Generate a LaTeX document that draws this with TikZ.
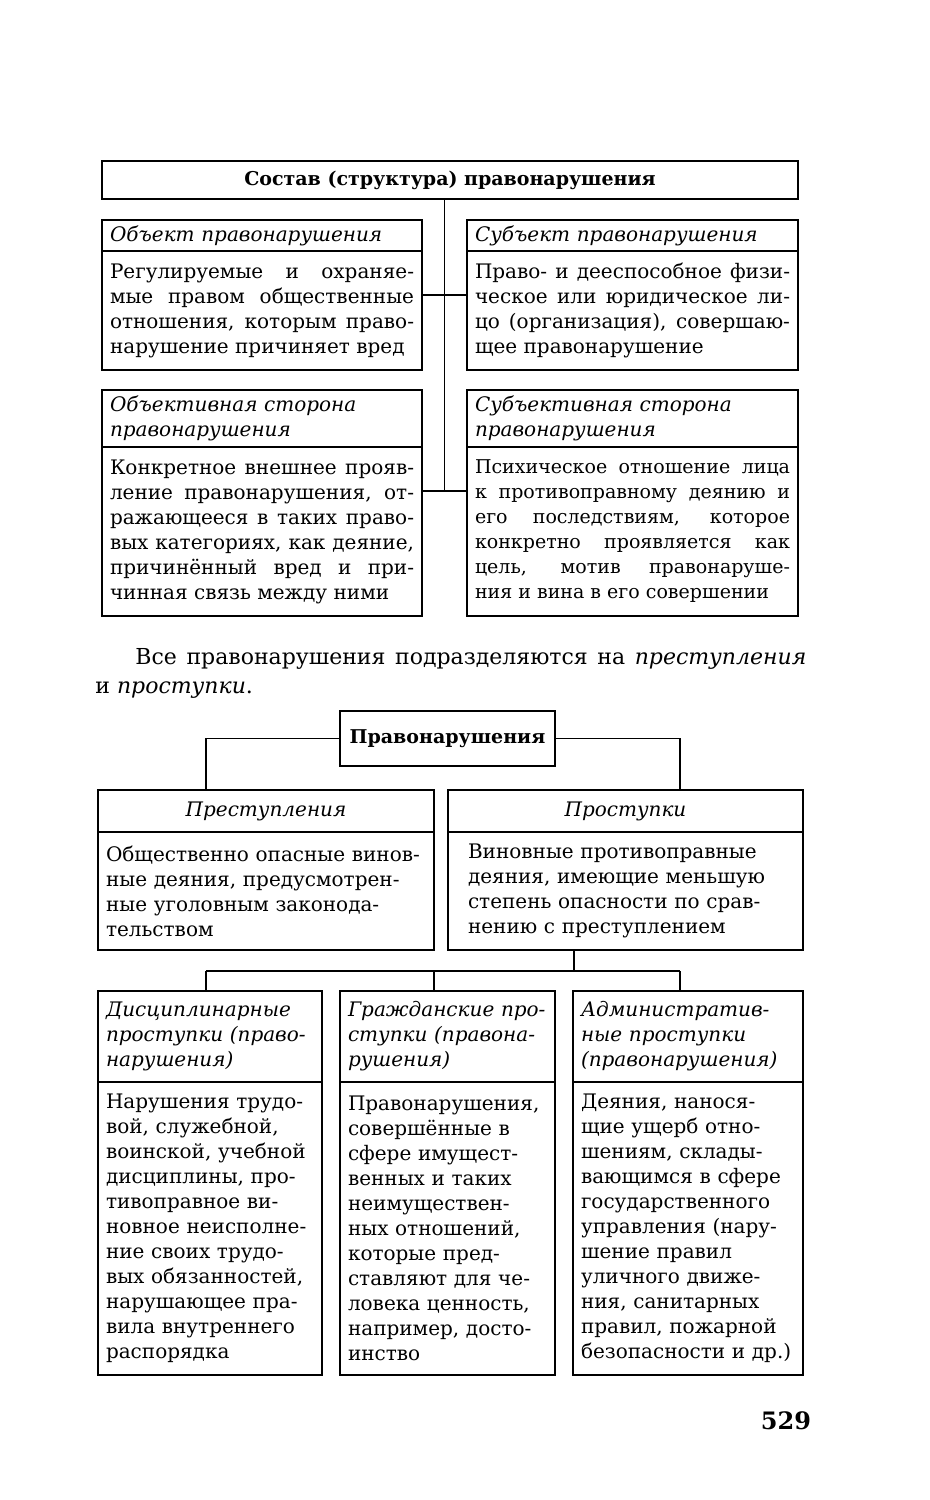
\documentclass[tikz,border=0pt]{standalone}
\usepackage{fontspec}
\setmainfont{DejaVu Serif}
\usetikzlibrary{positioning,calc}
\hyphenpenalty=10000
\exhyphenpenalty=10000

\begin{document}
\begin{tikzpicture}[x=0.5pt,y=-0.5pt,
    font=\fontsize{10}{12.5}\selectfont,
    frame/.style={draw,line width=0.9pt,inner ysep=1pt,outer sep=0pt},
    titlebox/.style={frame,font=\fontsize{9.5}{12.5}\selectfont\bfseries,align=center},
    boxhead/.style={frame,anchor=north west,inner xsep=4pt,align=left,font=\fontsize{10}{12.5}\selectfont\itshape},
    boxbody/.style={frame,anchor=north west,inner xsep=4pt,align=justify},
    ragbody/.style={frame,anchor=north west,inner xsep=4pt,align=left},
    link/.style={line width=0.9pt}]

    \useasboundingbox (0,0) rectangle (930,1500);

    % Structure of the offence
    \node[titlebox,minimum width=348pt,minimum height=19pt] at (450,180) (title) {Состав (структура) правонарушения};

    \node[boxhead,text width=152pt,minimum height=15.5pt] at (102,220) (objhd) {Объект правонарушения};
    \node[boxbody,text width=152pt,minimum height=59.5pt] at (objhd.south west) (objbd) {Регулируемые и охраняе-\linebreak мые правом общественные\linebreak отношения, которым право-\linebreak нарушение причиняет вред};

    \node[boxhead,text width=157.5pt,minimum height=15.5pt] at (467,220) (subjhd) {Субъект правонарушения};
    \node[boxbody,text width=157.5pt,minimum height=59.5pt] at (subjhd.south west) (subjbd) {Право- и дееспособное физи-\linebreak ческое или юридическое ли-\linebreak цо (организация), совершаю-\linebreak щее правонарушение};

    \node[boxhead,text width=152pt,minimum height=28.5pt] at (102,390) (objsdhd) {Объективная сторона\\правонарушения};
    \node[boxbody,text width=152pt,minimum height=84.5pt] at (objsdhd.south west) (objsdbd) {Конкретное внешнее прояв-\linebreak ление правонарушения, от-\linebreak ражающееся в таких право-\linebreak вых категориях, как деяние,\linebreak причинённый вред и при-\linebreak чинная связь между ними};

    \node[boxhead,text width=157.5pt,minimum height=28.5pt] at (467,390) (subjsdhd) {Субъективная сторона\\правонарушения};
    \node[boxbody,text width=157.5pt,minimum height=84.5pt,font=\fontsize{9.5}{12.5}\selectfont] at (subjsdhd.south west) (subjsdbd) {Психическое отношение лица\linebreak к противоправному деянию и\linebreak его последствиям, которое\linebreak конкретно проявляется как\linebreak цель, мотив правонаруше-\linebreak ния и вина в его совершении};

    % Spine and branches
    \coordinate (spine) at ($([yshift=-22pt]objsdbd.north east)!0.5!([yshift=-22pt]subjsdbd.north west)$);
    \draw[link] (spine |- title.south) -- (spine);
    \draw[link] ([yshift=-22pt]objbd.north east) -- ([yshift=-22pt]subjbd.north west);
    \draw[link] ([yshift=-22pt]objsdbd.north east) -- ([yshift=-22pt]subjsdbd.north west);

    % Text between the schemes
    \node[anchor=north west,inner sep=0pt,text width=355.5pt,align=justify,font=\fontsize{11}{14.5}\selectfont] at (95,648) (para) {\hspace*{20pt}Все правонарушения подразделяются на \textit{преступления}\linebreak и \textit{проступки}.};

    % Kinds of offences
    \node[titlebox,minimum width=107.5pt,minimum height=27.5pt] at (447.5,738.5) (offence) {Правонарушения};

    \node[boxhead,text width=160pt,minimum height=21pt,align=center] at (98,790) (crimehd) {Преступления};
    \node[ragbody,text width=160pt,minimum height=59pt] at (crimehd.south west) (crimebd) {Общественно опасные винов-\\ные деяния, предусмотрен-\\ные уголовным законода-\\тельством};

    \node[boxhead,text width=169.5pt,minimum height=21pt,align=center] at (448,790) (misdhd) {Проступки};
    \node[ragbody,inner xsep=10pt,text width=157.5pt,minimum height=59pt] at (misdhd.south west) (misdbd) {Виновные противоправные\\деяния, имеющие меньшую\\степень опасности по срав-\\нению с преступлением};

    \node[boxhead,text width=104pt,minimum height=45.5pt] at (98,991) (discihd) {Дисциплинарные\\проступки (право-\\нарушения)};
    \node[ragbody,text width=104pt,minimum height=146.5pt] at (discihd.south west) (discibd) {Нарушения трудо-\\вой, служебной,\\воинской, учебной\\дисциплины, про-\\тивоправное ви-\\новное неисполне-\\ние своих трудо-\\вых обязанностей,\\нарушающее пра-\\вила внутреннего\\распорядка};

    \node[boxhead,text width=99.5pt,minimum height=45.5pt] at (340,991) (civilhd) {Гражданские про-\\ступки (правона-\\рушения)};
    \node[ragbody,text width=99.5pt,minimum height=146.5pt] at (civilhd.south west) (civilbd) {Правонарушения,\\совершённые в\\сфере имущест-\\венных и таких\\неимуществен-\\ных отношений,\\которые пред-\\ставляют для че-\\ловека ценность,\\например, досто-\\инство};

    \node[boxhead,text width=107pt,minimum height=45.5pt] at (573,991) (adminhd) {Административ-\\ные проступки\\(правонарушения)};
    \node[ragbody,text width=107pt,minimum height=146.5pt] at (adminhd.south west) (adminbd) {Деяния, нанося-\\щие ущерб отно-\\шениям, склады-\\вающимся в сфере\\государственного\\управления (нару-\\шение правил\\уличного движе-\\ния, санитарных\\правил, пожарной\\безопасности и др.)};

    % Connectors
    \coordinate (lrail) at (206,971);
    \coordinate (rrail) at (680,971);
    \coordinate (drop) at (574,971);
    \coordinate (mrail) at (crimebd.east |- drop);
    \draw[link] (offence.west) -| (lrail |- crimehd.north);
    \draw[link] (offence.east) -| (rrail |- misdhd.north);
    \draw[link] (misdbd.south -| drop) -- (drop);
    \draw[link] (lrail) -- (rrail);
    \foreach \r in {lrail,mrail,rrail}
        \draw[link] (\r) -- (\r |- discihd.north);

    % Page number
    \node[font=\fontsize{12}{14}\selectfont\bfseries] at (786,1421) (pagenum) {529};
\end{tikzpicture}
\end{document}
